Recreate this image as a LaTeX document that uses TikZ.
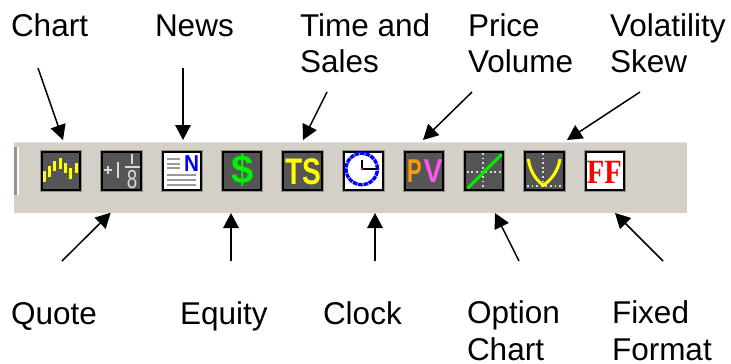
\documentclass[tikz,border=0pt]{standalone}
\usepackage{fontspec}
\usepackage{graphicx}
\setmainfont{Liberation Sans}
\newfontfamily\serifbold[BoldFont=Liberation Serif Bold]{Liberation Serif}
\usetikzlibrary{arrows.meta}
\definecolor{barcol}{HTML}{D4D0C8}
\definecolor{panel}{HTML}{555555}
\definecolor{halo}{HTML}{96948E}
\definecolor{ticks}{HTML}{D8D8D8}
\definecolor{newsgray}{HTML}{9A9A9A}
\definecolor{tsyellow}{HTML}{FFFF00}
\definecolor{dollargreen}{HTML}{00F000}
\definecolor{porange}{HTML}{FF9C00}
\definecolor{vmagenta}{HTML}{FF55F0}
\tikzset{
  caption/.style={inner sep=0pt,outer sep=0pt,anchor=base west,align=left,
    font=\fontsize{31.5}{36.5}\selectfont},
  pointer/.style={draw=black,line width=1.5pt,-{Triangle[length=15pt,width=15.5pt]}},
  toolicon/.style={draw=black,line width=2.4pt,minimum size=38.5pt,inner sep=0pt,outer sep=0pt,
    preaction={draw=halo,line width=4pt}},
  darkicon/.style={toolicon,fill=panel},
  whiteicon/.style={toolicon,fill=white},
  glyph/.style={inner sep=0pt,outer sep=0pt},
  bars/.style={draw=tsyellow,line width=3pt},
  quoteink/.style={draw=ticks,line width=2.6pt},
  newsline/.style={draw=newsgray,line width=1.7pt},
  dots/.style={draw=ticks,line width=1.8pt,dash pattern=on 1.8pt off 2.8pt},
}
\begin{document}
\begin{tikzpicture}[x=1pt,y=-1pt]
\useasboundingbox (0,0) rectangle (731,364);
% toolbar
\fill[barcol] (14,142) rectangle (687,213);
\fill[barcol!55!white] (14,142) rectangle (687,143.2);
\fill[halo] (14,147) rectangle (16.5,195);
\fill[white!90!barcol] (17,147) rectangle (19,195);
% icons
\node[darkicon] (chart) at (61,171) {};
\node[darkicon] (quote) at (121.5,171) {};
\node[whiteicon] (news) at (182,171) {};
\node[darkicon] (equity) at (242,171) {};
\node[darkicon] (ts) at (302.5,171) {};
\node[whiteicon] (clock) at (363.5,171) {};
\node[darkicon] (pv) at (424,171) {};
\node[darkicon] (option) at (484,171) {};
\node[darkicon] (skew) at (544.5,171) {};
\node[whiteicon] (ff) at (605,171) {};
% chart glyph
\draw[bars] (44,171) -- (44,182);
\draw[bars] (49.3,166.3) -- (49.3,176.7);
\draw[bars] (54.7,161) -- (54.7,171);
\draw[bars] (60,158.3) -- (60,169);
\draw[bars] (65.3,163) -- (65.3,173);
\draw[bars] (70.7,168) -- (70.7,179);
\draw[bars] (76,163) -- (76,173);
% quote glyph
\draw[quoteink] (104,170) -- (112,170) (108,166) -- (108,174);
\draw[quoteink] (118,161.7) -- (118,178);
\draw[quoteink,line width=2pt] (125,167) -- (140,167);
\draw[quoteink] (132,153.5) -- (132,164);
\node[glyph,text=ticks,font=\fontsize{26}{26}\selectfont] (eight) at (132,180) {\scalebox{.72}[1]{8}};
% news glyph
\draw[newsline] (166.7,159.3) -- (180,159.3);
\draw[newsline] (166.7,164) -- (180,164);
\draw[newsline] (166.7,168.3) -- (180,168.3);
\draw[newsline] (166.7,175) -- (196,175);
\draw[newsline] (166.7,180) -- (196,180);
\draw[newsline] (166.7,185) -- (196,185);
\node[glyph,text=blue,font=\fontsize{23}{23}\selectfont\bfseries] (newsN) at (191.5,163.5) {\scalebox{.9}[1]{N}};
% equity glyph
\node[glyph,text=dollargreen,font=\fontsize{40}{40}\selectfont\bfseries] (dollar) at (242.7,170) {\$};
% time and sales glyph
\node[glyph,text=tsyellow,font=\fontsize{37}{37}\selectfont\bfseries] (tsText) at (303.3,171.5) {\scalebox{.76}[1]{TS}};
% clock glyph
\draw[blue,line width=3.4pt,dash pattern=on 4.6pt off .8pt] (361.7,169) circle (15.7pt);
\draw[black,line width=2pt] (376.7,169) -- (361.7,169) -- (361.7,160);
\fill[red] (360.7,168) rectangle (362.7,170);
% price volume glyph
\node[glyph,font=\fontsize{33}{33}\selectfont\bfseries] (pvText) at (424.8,171) {\scalebox{.66}[1]{\textcolor{porange}{P}}\hspace{2pt}\scalebox{.86}[1]{\textcolor{vmagenta}{V}}};
% option chart glyph
\draw[dots] (483.3,153) -- (483.3,188);
\draw[dots] (466.7,172.3) -- (501.7,172.3);
\draw[draw=dollargreen,line width=3pt] (467.7,188.3) -- (501.7,154.3);
% skew glyph
\draw[dots] (543.3,153) -- (543.3,188);
\draw[dots] (527,185.7) -- (561,185.7);
\draw[draw=tsyellow,line width=3pt] (528.3,159) .. controls (530,172) and (537,181) .. (543.3,185.2) .. controls (550,181) and (558,172) .. (560,159);
% fixed format glyph
\node[glyph,text=red,font=\serifbold\fontsize{34}{34}\selectfont\bfseries] (ffText) at (604.3,172) {\scalebox{.84}[1]{FF}};
% captions (a node's base is the baseline of its last line)
\node[caption] (lChart) at (11,36) {Chart};
\node[caption] (lNews) at (155,36) {News};
\node[caption] (lTime) at (300,72.5) {Time and\\Sales};
\node[caption] (lPrice) at (468,72.5) {Price\\Volume};
\node[caption] (lVol) at (610,72.5) {Volatility\\Skew};
\node[caption] (lQuote) at (11,324) {Quote};
\node[caption] (lEquity) at (180,324) {Equity};
\node[caption] (lClock) at (323,324) {Clock};
\node[caption] (lOption) at (467,360) {Option\\Chart};
\node[caption] (lFixed) at (612,360) {Fixed\\Format};
% connector ends
\coordinate (aChart) at (38,68);   \coordinate (bChart) at (63,140);
\coordinate (aNews) at (183,68);   \coordinate (bNews) at (183,140);
\coordinate (aTS) at (327,92);     \coordinate (bTS) at (303,140);
\coordinate (aPV) at (472,92);     \coordinate (bPV) at (423,140);
\coordinate (aVol) at (640,92);    \coordinate (bVol) at (567,140);
\coordinate (aQuote) at (62,261);  \coordinate (bQuote) at (110.7,212.7);
\coordinate (aEq) at (231,261);    \coordinate (bEq) at (231,213);
\coordinate (aClock) at (375,261); \coordinate (bClock) at (375,213);
\coordinate (aOpt) at (519,261);   \coordinate (bOpt) at (495,213);
\coordinate (aFix) at (663,261);   \coordinate (bFix) at (615,213);
\draw[pointer] (aChart) -- (bChart);
\draw[pointer] (aNews) -- (bNews);
\draw[pointer] (aTS) -- (bTS);
\draw[pointer] (aPV) -- (bPV);
\draw[pointer] (aVol) -- (bVol);
\draw[pointer] (aQuote) -- (bQuote);
\draw[pointer] (aEq) -- (bEq);
\draw[pointer] (aClock) -- (bClock);
\draw[pointer] (aOpt) -- (bOpt);
\draw[pointer] (aFix) -- (bFix);
\end{tikzpicture}
\end{document}
